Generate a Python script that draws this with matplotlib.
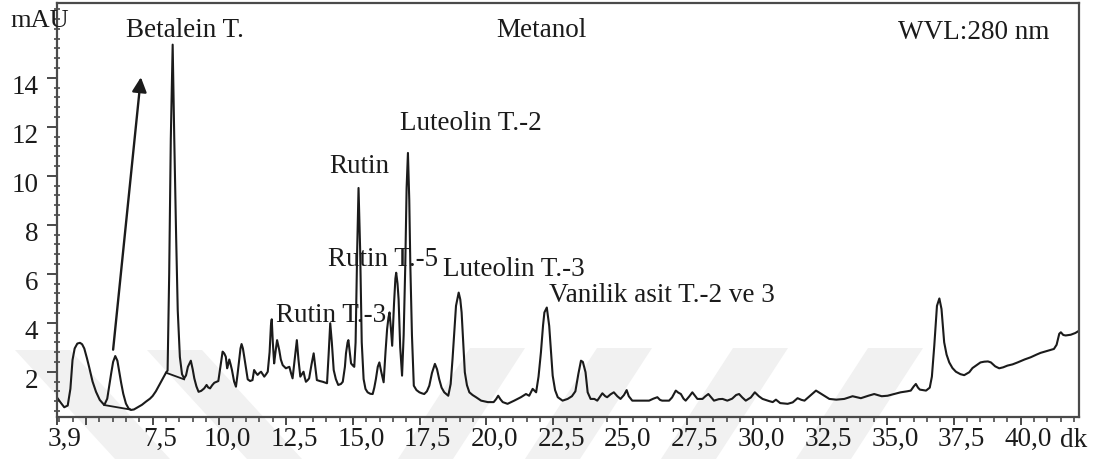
import matplotlib
matplotlib.use("Agg")
import matplotlib.pyplot as plt
import matplotlib.transforms as mtransforms
from matplotlib.patches import Polygon
from matplotlib.ticker import FixedLocator, MultipleLocator

# HPLC chromatogram, methanol extract, 280 nm
# trace: retention time (dk) and signal (mAU)
retention_time = [
    3.90, 4.05, 4.19, 4.32, 4.42, 4.50, 4.58, 4.68, 4.78, 4.86, 4.94, 5.04, 5.12, 5.25, 5.38, 5.52,
    5.69, 5.80, 5.87, 5.95, 6.02, 6.10, 6.18, 6.25, 6.32, 6.40, 6.50, 6.60, 6.69, 6.80, 6.94, 7.10,
    7.25, 7.40, 7.50, 7.62, 7.75, 7.88, 8.00, 8.06, 8.12, 8.18, 8.25, 8.31, 8.38, 8.44, 8.52, 8.60,
    8.68, 8.75, 8.82, 8.93, 9.00, 9.06, 9.14, 9.22, 9.32, 9.43, 9.52, 9.58, 9.65, 9.73, 9.81, 9.96,
    10.05, 10.12, 10.18, 10.24, 10.29, 10.33, 10.37, 10.42, 10.47, 10.55, 10.62, 10.68, 10.74, 10.79,
    10.83, 10.88, 10.93, 11.00, 11.06, 11.15, 11.24, 11.30, 11.37, 11.43, 11.50, 11.56, 11.62, 11.68,
    11.75, 11.81, 11.88, 11.93, 11.96, 12.00, 12.05, 12.10, 12.16, 12.20, 12.24, 12.30, 12.37, 12.49,
    12.55, 12.62, 12.68, 12.74, 12.82, 12.90, 12.96, 13.03, 13.09, 13.15, 13.20, 13.24, 13.30, 13.36,
    13.45, 13.53, 13.59, 13.65, 13.76, 13.87, 13.95, 14.03, 14.09, 14.15, 14.21, 14.28, 14.36, 14.45,
    14.55, 14.62, 14.70, 14.74, 14.80, 14.83, 14.88, 14.93, 15.00, 15.05, 15.10, 15.16, 15.21, 15.27,
    15.33, 15.40, 15.47, 15.55, 15.65, 15.74, 15.80, 15.86, 15.93, 15.99, 16.06, 16.15, 16.22, 16.28,
    16.33, 16.37, 16.42, 16.47, 16.54, 16.59, 16.62, 16.67, 16.71, 16.77, 16.84, 16.90, 16.96, 17.01,
    17.06, 17.11, 17.15, 17.21, 17.28, 17.38, 17.49, 17.58, 17.67, 17.77, 17.86, 17.96, 18.07, 18.15,
    18.23, 18.32, 18.42, 18.57, 18.66, 18.73, 18.80, 18.86, 18.96, 19.02, 19.07, 19.13, 19.19, 19.27,
    19.36, 19.48, 19.61, 19.80, 20.05, 20.27, 20.36, 20.44, 20.52, 20.61, 20.79, 21.04, 21.29, 21.48,
    21.60, 21.73, 21.86, 21.95, 22.04, 22.12, 22.17, 22.26, 22.35, 22.42, 22.48, 22.57, 22.67, 22.85,
    23.04, 23.20, 23.33, 23.44, 23.54, 23.61, 23.71, 23.79, 23.90, 24.04, 24.15, 24.34, 24.45, 24.52,
    24.65, 24.77, 24.90, 25.02, 25.15, 25.25, 25.33, 25.46, 25.65, 25.84, 26.09, 26.25, 26.40, 26.50,
    26.58, 26.84, 26.95, 27.09, 27.18, 27.28, 27.38, 27.46, 27.60, 27.71, 27.82, 27.90, 28.09, 28.20,
    28.31, 28.42, 28.52, 28.70, 28.84, 29.02, 29.20, 29.35, 29.46, 29.58, 29.71, 29.90, 30.05, 30.20,
    30.34, 30.59, 30.72, 30.84, 31.00, 31.28, 31.47, 31.65, 31.80, 31.91, 32.10, 32.34, 32.50, 32.60,
    32.84, 33.10, 33.40, 33.60, 33.71, 34.02, 34.30, 34.52, 34.80, 35.02, 35.30, 35.51, 35.75, 35.89,
    36.00, 36.08, 36.16, 36.23, 36.46, 36.60, 36.68, 36.77, 36.87, 36.96, 37.04, 37.14, 37.23, 37.33,
    37.45, 37.58, 37.75, 37.89, 38.08, 38.20, 38.33, 38.50, 38.64, 38.78, 38.89, 39.05, 39.20, 39.35,
    39.51, 39.70, 39.89, 40.15, 40.38, 40.60, 40.75, 41.00, 41.25, 41.35, 41.45, 41.51, 41.60, 41.69,
    41.88, 42.05, 42.20,
]
signal_mau = [
    0.98, 0.75, 0.55, 0.62, 1.30, 2.48, 2.95, 3.15, 3.18, 3.12, 2.95, 2.55, 2.20, 1.60, 1.18, 0.85,
    0.64, 0.90, 1.39, 1.95, 2.40, 2.64, 2.45, 2.00, 1.55, 1.10, 0.70, 0.50, 0.44, 0.46, 0.55, 0.65,
    0.78, 0.90, 1.01, 1.20, 1.46, 1.72, 1.96, 2.05, 6.00, 11.50, 15.35, 11.50, 7.50, 4.50, 2.60, 1.90,
    1.73, 1.85, 2.20, 2.45, 2.10, 1.73, 1.40, 1.18, 1.22, 1.32, 1.46, 1.36, 1.32, 1.45, 1.55, 1.62,
    2.30, 2.82, 2.75, 2.61, 2.14, 2.30, 2.50, 2.30, 2.07, 1.60, 1.39, 1.90, 2.48, 2.95,
    3.13, 2.95, 2.61, 2.10, 1.69, 1.62, 1.66, 2.07, 1.95, 1.87, 1.95, 2.00, 1.90, 1.80,
    1.90, 2.00, 2.80, 3.90, 4.14, 3.20, 2.34, 2.80, 3.29, 3.10, 2.89, 2.50, 2.27, 2.14,
    2.17, 2.20, 1.95, 1.73, 2.50, 3.29, 2.50, 1.80, 1.90, 2.00, 1.75, 1.59, 1.65, 1.73,
    2.30, 2.75, 2.20, 1.66, 1.62, 1.59, 1.56, 1.53, 2.70, 3.98, 3.20, 2.07, 1.70, 1.46,
    1.50, 1.59, 2.20, 2.75, 3.20, 3.29, 2.80, 2.34, 2.25, 2.20, 3.20, 7.00, 9.50, 7.00,
    3.20, 1.70, 1.30, 1.16, 1.10, 1.09, 1.35, 1.70, 2.20, 2.38, 2.00, 1.57, 2.80, 3.74,
    4.20, 4.42, 3.80, 3.06, 4.80, 5.80, 6.04, 5.60, 4.96, 3.00, 1.84, 3.50, 6.32, 9.50,
    10.93, 9.00, 6.32, 3.50, 1.43, 1.25, 1.16, 1.12, 1.09, 1.20, 1.43, 1.95, 2.32, 2.10,
    1.70, 1.35, 1.16, 1.02, 1.50, 2.52, 3.70, 4.69, 5.23, 4.95, 4.42, 3.20, 1.98, 1.45,
    1.16, 1.05, 0.96, 0.82, 0.76, 0.76, 0.88, 1.02, 0.88, 0.76, 0.69, 0.82, 0.96, 1.09,
    1.02, 1.30, 1.16, 1.80, 2.79, 3.90, 4.42, 4.62, 3.87, 2.80, 1.84, 1.25, 0.96, 0.82,
    0.89, 1.00, 1.20, 1.90, 2.45, 2.40, 1.98, 1.16, 0.89, 0.89, 0.82, 1.12, 1.00, 0.96,
    1.08, 1.16, 1.00, 0.89, 1.05, 1.25, 1.00, 0.82, 0.82, 0.82, 0.82, 0.90, 0.96, 0.85,
    0.82, 0.82, 0.95, 1.23, 1.15, 1.09, 0.90, 0.82, 1.00, 1.16, 1.00, 0.89, 0.89, 1.00,
    1.09, 0.95, 0.82, 0.88, 0.89, 0.82, 0.90, 1.05, 1.09, 0.95, 0.82, 0.95, 1.16, 1.00,
    0.89, 0.80, 0.76, 0.86, 0.72, 0.69, 0.75, 0.92, 0.85, 0.82, 1.00, 1.23, 1.12, 1.05,
    0.89, 0.86, 0.89, 0.96, 1.00, 0.92, 1.02, 1.09, 1.00, 1.02, 1.10, 1.16, 1.20, 1.23,
    1.40, 1.50, 1.35, 1.27, 1.23, 1.35, 1.80, 3.07, 4.69, 4.99, 4.56, 3.20, 2.70, 2.38,
    2.15, 2.00, 1.90, 1.86, 1.98, 2.15, 2.25, 2.38, 2.41, 2.42, 2.38, 2.22, 2.14, 2.18,
    2.25, 2.30, 2.38, 2.50, 2.59, 2.70, 2.77, 2.85, 2.93, 3.10, 3.55, 3.61, 3.50, 3.48,
    3.51, 3.58, 3.68,
]

# integration baselines drawn under two peaks
baseline_1_time = [5.69, 6.65]
baseline_1_mau = [0.64, 0.46]
baseline_2_time = [8.00, 8.68]
baseline_2_mau = [1.96, 1.69]

# peak labels
peak_names = ["Betalein T.", "Rutin", "Luteolin T.-2", "Rutin T.-5", "Luteolin T.-3",
              "Rutin T.-3", "Vanilik asit T.-2 ve 3"]
label_x = [6.50, 14.10, 16.77, 14.07, 18.36, 12.12, 22.35]
label_y = [15.66, 10.13, 11.88, 6.31, 5.91, 4.02, 4.83]

x_ticks = [3.9, 5.0, 7.5, 10.0, 12.5, 15.0, 17.5, 20.0, 22.5, 25.0, 27.5, 30.0, 32.5, 35.0, 37.5, 40.0]
x_tick_labels = ["3,9", "", "7,5", "10,0", "12,5", "15,0", "17,5", "20,0", "22,5", "25,0",
                 "27,5", "30,0", "32,5", "35,0", "37,5", "40,0"]
y_ticks = [2, 4, 6, 8, 10, 12, 14]

plt.rcParams["font.family"] = ["Liberation Serif", "DejaVu Serif"]
ink = "#1b1b1b"
frame = "#4a4a4a"
fs = 19.5

W, H = 1102, 459
fig = plt.figure(figsize=(W / 100, H / 100), dpi=100)
fig.patch.set_facecolor("white")

# faint thesis watermark chevrons behind the plot (pixel coords, y from top)
def px(pts):
    return [(x / W, 1 - y / H) for x, y in pts]

bands = []
for x0 in [15, 147]:
    bands.append([(x0, 350), (x0 + 55, 350), (x0 + 55 + 100, 459), (x0 + 100, 459)])
for x0 in [470, 597, 733, 868]:
    bands.append([(x0, 348), (x0 + 55, 348), (x0 + 55 - 72, 459), (x0 - 72, 459)])
for b in bands:
    fig.patches.append(Polygon(px(b), closed=True, transform=fig.transFigure,
                               facecolor="#f1f1f1", edgecolor="none", zorder=-5))

ax = fig.add_axes([56.5 / W, (H - 417.3) / H, (1079.3 - 56.5) / W, (417.3 - 3) / H])
ax.set_facecolor("none")

ax.plot(retention_time, signal_mau, color=ink, lw=1.5, solid_joinstyle="round")
ax.plot(baseline_1_time, baseline_1_mau, color=ink, lw=1.3)
ax.plot(baseline_2_time, baseline_2_mau, color=ink, lw=1.3)

# arrow pointing up to the Betalein label
ax.annotate("", xy=(7.06, 14.02), xytext=(6.02, 2.9),
            arrowprops=dict(arrowstyle="-|>", color=ink, lw=1.7, mutation_scale=22,
                            shrinkA=0, shrinkB=0))

for name, lx, ly in zip(peak_names, label_x, label_y):
    ax.text(lx, ly, name, fontsize=fs, color=ink, ha="left", va="baseline")

ax.text(20.36, 15.66, "Metanol", fontsize=fs, color=ink, ha="left", va="baseline")
ax.text(35.40, 15.60, "WVL:280 nm", fontsize=fs, color=ink, ha="left", va="baseline")
fig.text(10 / W, 1 - 26.7 / H, "mAU", fontsize=19, color=ink, ha="left", va="baseline")
fig.text(1060 / W, 1 - 446.7 / H, "dk", fontsize=fs, color=ink, ha="left", va="baseline")

ax.set_xlim(3.9, 42.2)
ax.set_ylim(0.14, 17.05)

ax.xaxis.set_major_locator(FixedLocator(x_ticks))
ax.set_xticklabels(x_tick_labels)
ax.xaxis.set_minor_locator(MultipleLocator(0.5))
ax.yaxis.set_major_locator(FixedLocator(y_ticks))
ax.set_yticklabels([str(v) for v in y_ticks])
ax.yaxis.set_minor_locator(MultipleLocator(0.4))

ax.tick_params(axis="x", which="major", direction="out", length=6, width=1.4, color=frame,
               pad=1, labelsize=fs, labelcolor=ink)
ax.tick_params(axis="x", which="minor", direction="out", length=3.5, width=1.2, color=frame)
ax.tick_params(axis="y", which="major", direction="out", length=7, width=1.4, color=frame,
               pad=6, labelsize=fs, labelcolor=ink)
ax.tick_params(axis="y", which="minor", direction="inout", length=4, width=1.2, color=frame)

# tick labels sit a little off their ticks in the original
shift_x = mtransforms.ScaledTranslation(8 / 100, 0, fig.dpi_scale_trans)
for lab in ax.get_xticklabels():
    lab.set_transform(lab.get_transform() + shift_x)
shift_y = mtransforms.ScaledTranslation(0, -7 / 100, fig.dpi_scale_trans)
for lab in ax.get_yticklabels():
    lab.set_transform(lab.get_transform() + shift_y)

for s in ax.spines.values():
    s.set_color(frame)
    s.set_linewidth(1.6)

fig.savefig("out.png", dpi=100)
